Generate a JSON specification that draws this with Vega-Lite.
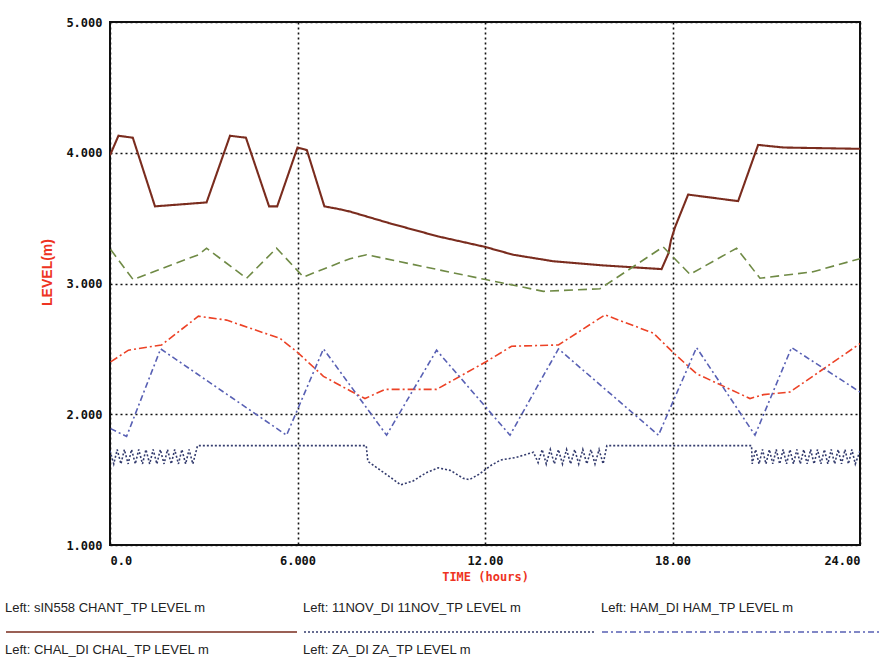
{
  "$schema": "https://vega.github.io/schema/vega-lite/v6.json",
  "width": 750,
  "height": 523,
  "autosize": {"type": "none"},
  "padding": {"left": 110, "top": 22, "right": 20, "bottom": 117},
  "background": "white",
  "config": {
    "view": {"stroke": "#111", "strokeWidth": 2},
    "axis": {
      "grid": true, "gridColor": "#111", "gridDash": [2, 3], "gridWidth": 1.6,
      "ticks": false, "domain": false,
      "labelFont": "DejaVu Sans Mono", "labelFontWeight": "bold", "labelFontSize": 12, "labelColor": "#111",
      "titleColor": "#ee3322", "titleFontWeight": "bold"
    },
    "legend": {
      "orient": "none", "legendX": -105, "legendY": 600, "direction": "horizontal",
      "columns": 3, "symbolType": "stroke", "symbolSize": 159200, "symbolStrokeWidth": 1.6,
      "clipHeight": 20, "labelOffset": -401, "columnPadding": 6, "rowPadding": 2,
      "labelFont": "Liberation Sans", "labelFontSize": 13, "labelColor": "#222", "labelLimit": 320,
      "padding": 0
    }
  },
  "data": {
    "values": [
      {"series": "CHANT", "hours": 0, "level": 3.98},
      {"series": "CHANT", "hours": 0.27, "level": 4.13},
      {"series": "CHANT", "hours": 0.73, "level": 4.115},
      {"series": "CHANT", "hours": 1.44, "level": 3.59},
      {"series": "CHANT", "hours": 3.09, "level": 3.62},
      {"series": "CHANT", "hours": 3.84, "level": 4.13},
      {"series": "CHANT", "hours": 4.35, "level": 4.115},
      {"series": "CHANT", "hours": 5.09, "level": 3.59},
      {"series": "CHANT", "hours": 5.35, "level": 3.59},
      {"series": "CHANT", "hours": 6.0, "level": 4.04},
      {"series": "CHANT", "hours": 6.3, "level": 4.02},
      {"series": "CHANT", "hours": 6.86, "level": 3.59},
      {"series": "CHANT", "hours": 7.31, "level": 3.57},
      {"series": "CHANT", "hours": 7.68, "level": 3.55},
      {"series": "CHANT", "hours": 8.96, "level": 3.46},
      {"series": "CHANT", "hours": 10.5, "level": 3.36},
      {"series": "CHANT", "hours": 12.0, "level": 3.28},
      {"series": "CHANT", "hours": 12.9, "level": 3.22},
      {"series": "CHANT", "hours": 14.19, "level": 3.17},
      {"series": "CHANT", "hours": 15.68, "level": 3.14},
      {"series": "CHANT", "hours": 17.65, "level": 3.11},
      {"series": "CHANT", "hours": 17.87, "level": 3.23},
      {"series": "CHANT", "hours": 17.95, "level": 3.33},
      {"series": "CHANT", "hours": 18.08, "level": 3.43},
      {"series": "CHANT", "hours": 18.5, "level": 3.68},
      {"series": "CHANT", "hours": 20.1, "level": 3.63},
      {"series": "CHANT", "hours": 20.74, "level": 4.06},
      {"series": "CHANT", "hours": 21.55, "level": 4.04},
      {"series": "CHANT", "hours": 24, "level": 4.03},

      {"series": "ZA", "hours": 0.02, "level": 3.26},
      {"series": "ZA", "hours": 0.74, "level": 3.03},
      {"series": "ZA", "hours": 2.83, "level": 3.22},
      {"series": "ZA", "hours": 3.09, "level": 3.27},
      {"series": "ZA", "hours": 4.37, "level": 3.04},
      {"series": "ZA", "hours": 5.33, "level": 3.27},
      {"series": "ZA", "hours": 6.19, "level": 3.05},
      {"series": "ZA", "hours": 7.68, "level": 3.19},
      {"series": "ZA", "hours": 8.21, "level": 3.22},
      {"series": "ZA", "hours": 12.02, "level": 3.03},
      {"series": "ZA", "hours": 13.87, "level": 2.94},
      {"series": "ZA", "hours": 15.68, "level": 2.96},
      {"series": "ZA", "hours": 17.7, "level": 3.28},
      {"series": "ZA", "hours": 18.56, "level": 3.07},
      {"series": "ZA", "hours": 20.05, "level": 3.27},
      {"series": "ZA", "hours": 20.8, "level": 3.04},
      {"series": "ZA", "hours": 22.5, "level": 3.09},
      {"series": "ZA", "hours": 24, "level": 3.19},

      {"series": "CHAL", "hours": 0.02, "level": 2.40},
      {"series": "CHAL", "hours": 0.59, "level": 2.49},
      {"series": "CHAL", "hours": 1.65, "level": 2.53},
      {"series": "CHAL", "hours": 2.83, "level": 2.75},
      {"series": "CHAL", "hours": 3.73, "level": 2.72},
      {"series": "CHAL", "hours": 5.44, "level": 2.58},
      {"series": "CHAL", "hours": 5.97, "level": 2.48},
      {"series": "CHAL", "hours": 6.83, "level": 2.29},
      {"series": "CHAL", "hours": 7.68, "level": 2.18},
      {"series": "CHAL", "hours": 8.16, "level": 2.12},
      {"series": "CHAL", "hours": 8.8, "level": 2.19},
      {"series": "CHAL", "hours": 10.45, "level": 2.19},
      {"series": "CHAL", "hours": 12.02, "level": 2.40},
      {"series": "CHAL", "hours": 12.85, "level": 2.52},
      {"series": "CHAL", "hours": 14.35, "level": 2.53},
      {"series": "CHAL", "hours": 15.84, "level": 2.76},
      {"series": "CHAL", "hours": 17.39, "level": 2.62},
      {"series": "CHAL", "hours": 18.03, "level": 2.47},
      {"series": "CHAL", "hours": 18.77, "level": 2.31},
      {"series": "CHAL", "hours": 20.48, "level": 2.12},
      {"series": "CHAL", "hours": 20.91, "level": 2.15},
      {"series": "CHAL", "hours": 21.76, "level": 2.17},
      {"series": "CHAL", "hours": 24, "level": 2.54},

      {"series": "HAM", "hours": 0.02, "level": 1.89},
      {"series": "HAM", "hours": 0.53, "level": 1.83},
      {"series": "HAM", "hours": 1.62, "level": 2.50},
      {"series": "HAM", "hours": 5.65, "level": 1.84},
      {"series": "HAM", "hours": 6.83, "level": 2.50},
      {"series": "HAM", "hours": 8.85, "level": 1.84},
      {"series": "HAM", "hours": 10.45, "level": 2.49},
      {"series": "HAM", "hours": 12.8, "level": 1.84},
      {"series": "HAM", "hours": 14.35, "level": 2.50},
      {"series": "HAM", "hours": 17.55, "level": 1.84},
      {"series": "HAM", "hours": 18.77, "level": 2.51},
      {"series": "HAM", "hours": 20.64, "level": 1.84},
      {"series": "HAM", "hours": 21.81, "level": 2.51},
      {"series": "HAM", "hours": 24, "level": 2.17},

      {"series": "11NOV", "hours": 0.00, "level": 1.72},
      {"series": "11NOV", "hours": 0.12, "level": 1.62},
      {"series": "11NOV", "hours": 0.23, "level": 1.73},
      {"series": "11NOV", "hours": 0.35, "level": 1.62},
      {"series": "11NOV", "hours": 0.46, "level": 1.73},
      {"series": "11NOV", "hours": 0.58, "level": 1.62},
      {"series": "11NOV", "hours": 0.69, "level": 1.73},
      {"series": "11NOV", "hours": 0.81, "level": 1.62},
      {"series": "11NOV", "hours": 0.92, "level": 1.73},
      {"series": "11NOV", "hours": 1.04, "level": 1.62},
      {"series": "11NOV", "hours": 1.15, "level": 1.73},
      {"series": "11NOV", "hours": 1.27, "level": 1.62},
      {"series": "11NOV", "hours": 1.38, "level": 1.73},
      {"series": "11NOV", "hours": 1.50, "level": 1.62},
      {"series": "11NOV", "hours": 1.61, "level": 1.73},
      {"series": "11NOV", "hours": 1.73, "level": 1.62},
      {"series": "11NOV", "hours": 1.84, "level": 1.73},
      {"series": "11NOV", "hours": 1.96, "level": 1.62},
      {"series": "11NOV", "hours": 2.07, "level": 1.73},
      {"series": "11NOV", "hours": 2.19, "level": 1.62},
      {"series": "11NOV", "hours": 2.30, "level": 1.73},
      {"series": "11NOV", "hours": 2.42, "level": 1.62},
      {"series": "11NOV", "hours": 2.53, "level": 1.73},
      {"series": "11NOV", "hours": 2.65, "level": 1.62},
      {"series": "11NOV", "hours": 2.77, "level": 1.73},
      {"series": "11NOV", "hours": 2.80, "level": 1.76},
      {"series": "11NOV", "hours": 8.20, "level": 1.76},
      {"series": "11NOV", "hours": 8.25, "level": 1.64},
      {"series": "11NOV", "hours": 8.96, "level": 1.52},
      {"series": "11NOV", "hours": 9.30, "level": 1.46},
      {"series": "11NOV", "hours": 9.70, "level": 1.49},
      {"series": "11NOV", "hours": 10.10, "level": 1.55},
      {"series": "11NOV", "hours": 10.50, "level": 1.59},
      {"series": "11NOV", "hours": 10.90, "level": 1.57},
      {"series": "11NOV", "hours": 11.30, "level": 1.51},
      {"series": "11NOV", "hours": 11.50, "level": 1.50},
      {"series": "11NOV", "hours": 11.80, "level": 1.54},
      {"series": "11NOV", "hours": 12.20, "level": 1.61},
      {"series": "11NOV", "hours": 12.50, "level": 1.65},
      {"series": "11NOV", "hours": 13.00, "level": 1.67},
      {"series": "11NOV", "hours": 13.55, "level": 1.71},
      {"series": "11NOV", "hours": 13.70, "level": 1.63},
      {"series": "11NOV", "hours": 13.83, "level": 1.73},
      {"series": "11NOV", "hours": 13.96, "level": 1.62},
      {"series": "11NOV", "hours": 14.09, "level": 1.73},
      {"series": "11NOV", "hours": 14.22, "level": 1.62},
      {"series": "11NOV", "hours": 14.35, "level": 1.73},
      {"series": "11NOV", "hours": 14.48, "level": 1.62},
      {"series": "11NOV", "hours": 14.61, "level": 1.73},
      {"series": "11NOV", "hours": 14.74, "level": 1.62},
      {"series": "11NOV", "hours": 14.87, "level": 1.73},
      {"series": "11NOV", "hours": 15.00, "level": 1.62},
      {"series": "11NOV", "hours": 15.13, "level": 1.73},
      {"series": "11NOV", "hours": 15.26, "level": 1.62},
      {"series": "11NOV", "hours": 15.39, "level": 1.73},
      {"series": "11NOV", "hours": 15.52, "level": 1.62},
      {"series": "11NOV", "hours": 15.65, "level": 1.73},
      {"series": "11NOV", "hours": 15.78, "level": 1.62},
      {"series": "11NOV", "hours": 15.90, "level": 1.76},
      {"series": "11NOV", "hours": 20.53, "level": 1.76},
      {"series": "11NOV", "hours": 20.55, "level": 1.62},
      {"series": "11NOV", "hours": 20.66, "level": 1.73},
      {"series": "11NOV", "hours": 20.77, "level": 1.62},
      {"series": "11NOV", "hours": 20.88, "level": 1.73},
      {"series": "11NOV", "hours": 20.99, "level": 1.62},
      {"series": "11NOV", "hours": 21.10, "level": 1.73},
      {"series": "11NOV", "hours": 21.21, "level": 1.62},
      {"series": "11NOV", "hours": 21.32, "level": 1.73},
      {"series": "11NOV", "hours": 21.43, "level": 1.62},
      {"series": "11NOV", "hours": 21.54, "level": 1.73},
      {"series": "11NOV", "hours": 21.65, "level": 1.62},
      {"series": "11NOV", "hours": 21.76, "level": 1.73},
      {"series": "11NOV", "hours": 21.87, "level": 1.62},
      {"series": "11NOV", "hours": 21.98, "level": 1.73},
      {"series": "11NOV", "hours": 22.09, "level": 1.62},
      {"series": "11NOV", "hours": 22.20, "level": 1.73},
      {"series": "11NOV", "hours": 22.31, "level": 1.62},
      {"series": "11NOV", "hours": 22.42, "level": 1.73},
      {"series": "11NOV", "hours": 22.53, "level": 1.62},
      {"series": "11NOV", "hours": 22.64, "level": 1.73},
      {"series": "11NOV", "hours": 22.75, "level": 1.62},
      {"series": "11NOV", "hours": 22.86, "level": 1.73},
      {"series": "11NOV", "hours": 22.97, "level": 1.62},
      {"series": "11NOV", "hours": 23.08, "level": 1.73},
      {"series": "11NOV", "hours": 23.19, "level": 1.62},
      {"series": "11NOV", "hours": 23.30, "level": 1.73},
      {"series": "11NOV", "hours": 23.41, "level": 1.62},
      {"series": "11NOV", "hours": 23.52, "level": 1.73},
      {"series": "11NOV", "hours": 23.63, "level": 1.62},
      {"series": "11NOV", "hours": 23.74, "level": 1.73},
      {"series": "11NOV", "hours": 23.85, "level": 1.62},
      {"series": "11NOV", "hours": 24.00, "level": 1.72}
    ]
  },
  "mark": {"type": "line", "clip": true},
  "encoding": {
    "x": {
      "field": "hours", "type": "quantitative",
      "scale": {"domain": [0, 24], "nice": false},
      "axis": {
        "values": [0, 6, 12, 18, 24],
        "labelExpr": "datum.value == 0 ? '0.0' : format(datum.value, '.4r')",
        "labelPadding": 10, "labelFontSize": 12,
        "title": "TIME (hours)", "titleFont": "DejaVu Sans Mono", "titleFontSize": 12, "titlePadding": 5
      }
    },
    "y": {
      "field": "level", "type": "quantitative",
      "scale": {"domain": [1, 5], "nice": false, "zero": false},
      "axis": {
        "values": [1, 2, 3, 4, 5], "format": ".3f", "labelPadding": 8,
        "title": "LEVEL(m)", "titleFont": "Liberation Sans", "titleFontSize": 14,
        "titleX": -56, "titleY": 250
      }
    },
    "strokeWidth": {
      "condition": {"test": "datum.series == 'CHANT'", "value": 2.1},
      "value": 1.6
    },
    "color": {
      "field": "series", "type": "nominal",
      "scale": {
        "domain": ["CHANT", "11NOV", "HAM", "CHAL", "ZA"],
        "range": ["#7a2c1e", "#343c6e", "#5860b4", "#ec4226", "#6f8a45"]
      },
      "legend": {
        "title": null,
        "labelExpr": "{'CHANT': 'Left: sIN558 CHANT_TP LEVEL m', '11NOV': 'Left: 11NOV_DI 11NOV_TP LEVEL m', 'HAM': 'Left: HAM_DI HAM_TP LEVEL m', 'CHAL': 'Left: CHAL_DI CHAL_TP LEVEL m', 'ZA': 'Left: ZA_DI ZA_TP LEVEL m'}[datum.label]",
        "encode": {
          "labels": {"update": {"dy": {"value": -24}}},
          "entries": {"update": {"width": {"value": 292}}}
        }
      }
    },
    "strokeDash": {
      "field": "series", "type": "nominal",
      "scale": {
        "domain": ["CHANT", "11NOV", "HAM", "CHAL", "ZA"],
        "range": [[1, 0], [2, 2], [6, 3, 2, 3], [8, 3, 2, 3], [9, 5]]
      },
      "legend": {"title": null}
    }
  }
}
